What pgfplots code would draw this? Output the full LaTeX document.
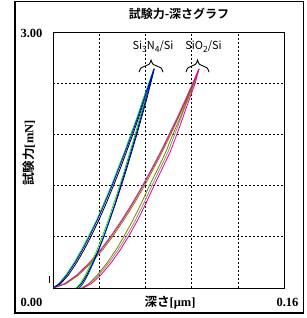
\documentclass[border=0pt]{standalone}
\usepackage{fontspec}
\setmainfont{Liberation Serif}
\newfontfamily\jp{Noto Sans CJK JP}[BoldFont={Noto Sans CJK JP Bold}]
\usepackage{pgfplots}
\pgfplotsset{compat=1.18}
\usetikzlibrary{decorations.pathreplacing}
\definecolor{olivec}{RGB}{128,128,0}
\definecolor{grayc}{RGB}{140,140,140}
\definecolor{limec}{RGB}{0,230,0}
\newcommand{\sub}[1]{\raisebox{-0.35ex}{\fontsize{8.5}{9}\selectfont #1}}
\begin{document}
\begin{tikzpicture}
\path (-53pt,-30pt) rectangle (253pt,288pt);
% outer frame
\draw[black, line width=1pt] (-38pt,-25pt) rectangle (250pt,286pt);
\draw[black, line width=2.2pt] (-38pt,-25pt) -- (-38pt,286pt);
\draw[black, line width=2.2pt] (-38pt,-25pt) -- (250pt,-25pt);
\begin{axis}[
  scale only axis, width=231pt, height=256pt,
  xmin=0, xmax=0.16, ymin=0, ymax=3,
  xtick={0,0.032,0.064,0.096,0.128,0.16},
  ytick={0,0.6,1.2,1.8,2.4,3},
  xticklabels={}, yticklabels={},
  major tick length=0pt,
  grid=major,
  grid style={black, line width=0.6pt, dash pattern=on 2pt off 2pt},
  axis line style={black, line width=0.9pt},
  every axis plot/.append style={line width=0.8pt, no marks},
]
% SiO2/Si gray
\addplot[grayc] coordinates {
(0,0) (0.0080,0.05) (0.0162,0.15) (0.0253,0.30) (0.0329,0.45) (0.0396,0.60)
(0.0476,0.80) (0.0550,1.00) (0.0619,1.20) (0.0683,1.40) (0.0745,1.60)
(0.0803,1.80) (0.0860,2.00) (0.0914,2.20) (0.0967,2.40) (0.1011,2.57)
(0.0978,2.40) (0.0932,2.20) (0.0888,2.00) (0.0843,1.80) (0.0798,1.60)
(0.0742,1.40) (0.0685,1.20) (0.0631,1.00) (0.0573,0.80) (0.0507,0.60)
(0.0452,0.45) (0.0390,0.30) (0.0316,0.15) (0.0252,0.05) (0.0196,0)};
% SiO2/Si olive
\addplot[olivec] coordinates {
(0,0) (0.0090,0.05) (0.0176,0.15) (0.0268,0.30) (0.0345,0.45) (0.0412,0.60)
(0.0492,0.80) (0.0566,1.00) (0.0634,1.20) (0.0697,1.40) (0.0758,1.60)
(0.0815,1.80) (0.0870,2.00) (0.0922,2.20) (0.0972,2.40) (0.1013,2.57)
(0.0978,2.40) (0.0930,2.20) (0.0882,2.00) (0.0830,1.80) (0.0783,1.60)
(0.0727,1.40) (0.0668,1.20) (0.0614,1.00) (0.0555,0.80) (0.0490,0.60)
(0.0437,0.45) (0.0377,0.30) (0.0306,0.15) (0.0248,0.05) (0.0200,0)};
% SiO2/Si magenta
\addplot[magenta] coordinates {
(0,0) (0.0083,0.05) (0.0167,0.15) (0.0258,0.30) (0.0334,0.45) (0.0401,0.60)
(0.0482,0.80) (0.0556,1.00) (0.0624,1.20) (0.0688,1.40) (0.0750,1.60)
(0.0808,1.80) (0.0865,2.00) (0.0919,2.20) (0.0970,2.40) (0.1011,2.57)
(0.0985,2.40) (0.0942,2.20) (0.0900,2.00) (0.0858,1.80) (0.0813,1.60)
(0.0757,1.40) (0.0700,1.20) (0.0646,1.00) (0.0588,0.80) (0.0522,0.60)
(0.0467,0.45) (0.0405,0.30) (0.0330,0.15) (0.0265,0.05) (0.0208,0)};
% Si3N4/Si black
\addplot[black] coordinates {
(0,0) (0.0052,0.05) (0.0106,0.15) (0.0165,0.30) (0.0216,0.45) (0.0262,0.60)
(0.0319,0.80) (0.0371,1.00) (0.0419,1.20) (0.0466,1.40) (0.0510,1.60)
(0.0553,1.80) (0.0594,2.00) (0.0633,2.20) (0.0671,2.40) (0.0702,2.57)
(0.0677,2.40) (0.0647,2.20) (0.0614,2.00) (0.0581,1.80) (0.0546,1.60)
(0.0511,1.40) (0.0474,1.20) (0.0435,1.00) (0.0394,0.80) (0.0351,0.60)
(0.0316,0.45) (0.0277,0.30) (0.0233,0.15) (0.0196,0.05) (0.0166,0)};
% Si3N4/Si green
\addplot[limec] coordinates {
(0,0) (0.0040,0.05) (0.0088,0.15) (0.0147,0.30) (0.0198,0.45) (0.0244,0.60)
(0.0303,0.80) (0.0353,1.00) (0.0404,1.20) (0.0449,1.40) (0.0496,1.60)
(0.0538,1.80) (0.0582,2.00) (0.0621,2.20) (0.0663,2.40) (0.0698,2.57)
(0.0670,2.40) (0.0636,2.20) (0.0602,2.00) (0.0569,1.80) (0.0534,1.60)
(0.0499,1.40) (0.0462,1.20) (0.0423,1.00) (0.0384,0.80) (0.0341,0.60)
(0.0306,0.45) (0.0268,0.30) (0.0224,0.15) (0.0189,0.05) (0.0160,0)};
% Si3N4/Si blue
\addplot[blue] coordinates {
(0,0) (0.0044,0.05) (0.0095,0.15) (0.0154,0.30) (0.0205,0.45) (0.0251,0.60)
(0.0308,0.80) (0.0360,1.00) (0.0409,1.20) (0.0456,1.40) (0.0501,1.60)
(0.0545,1.80) (0.0587,2.00) (0.0627,2.20) (0.0667,2.40) (0.0700,2.57)
(0.0674,2.40) (0.0642,2.20) (0.0609,2.00) (0.0576,1.80) (0.0541,1.60)
(0.0506,1.40) (0.0469,1.20) (0.0432,1.00) (0.0393,0.80) (0.0352,0.60)
(0.0318,0.45) (0.0281,0.30) (0.0240,0.15) (0.0207,0.05) (0.0182,0)};
% braces and labels
\draw[black, line width=0.9pt, decorate, decoration={brace, amplitude=12pt}]
  (axis cs:0.0596,2.53) -- (axis cs:0.0762,2.53);
\draw[black, line width=0.9pt, decorate, decoration={brace, amplitude=12pt}]
  (axis cs:0.0921,2.53) -- (axis cs:0.1081,2.53);
\node[anchor=base, inner sep=0pt, font=\jp\fontsize{11}{13}\selectfont] at (axis cs:0.0693,2.79) {Si\sub{3}N\sub{4}/Si};
\node[anchor=base, inner sep=0pt, font=\jp\fontsize{11}{13}\selectfont] at (axis cs:0.1043,2.79) {SiO\sub{2}/Si};
\end{axis}
% small mark left of the axis
\draw[black, line width=0.8pt] (-4pt,5pt) -- (-4pt,12pt);
% title
\node[font=\jp\bfseries\fontsize{12}{14}\selectfont] at (126pt,274pt) {試験力-深さグラフ};
% tick labels
\node[font=\bfseries\fontsize{12.5}{14}\selectfont] at (-21.5pt,255pt) {3.00};
\node[font=\bfseries\fontsize{12.5}{14}\selectfont] at (-21.5pt,-14pt) {0.00};
\node[font=\bfseries\fontsize{12.5}{14}\selectfont] at (234.5pt,-14pt) {0.16};
% axis labels
\node[font=\bfseries\fontsize{12.5}{14}\selectfont] at (117pt,-15pt) {{\jp 深さ}[μm]};
\node[rotate=90, font=\bfseries\fontsize{12.5}{14}\selectfont] at (-24pt,135pt) {{\jp 試験力}[mN]};
\end{tikzpicture}
\end{document}
